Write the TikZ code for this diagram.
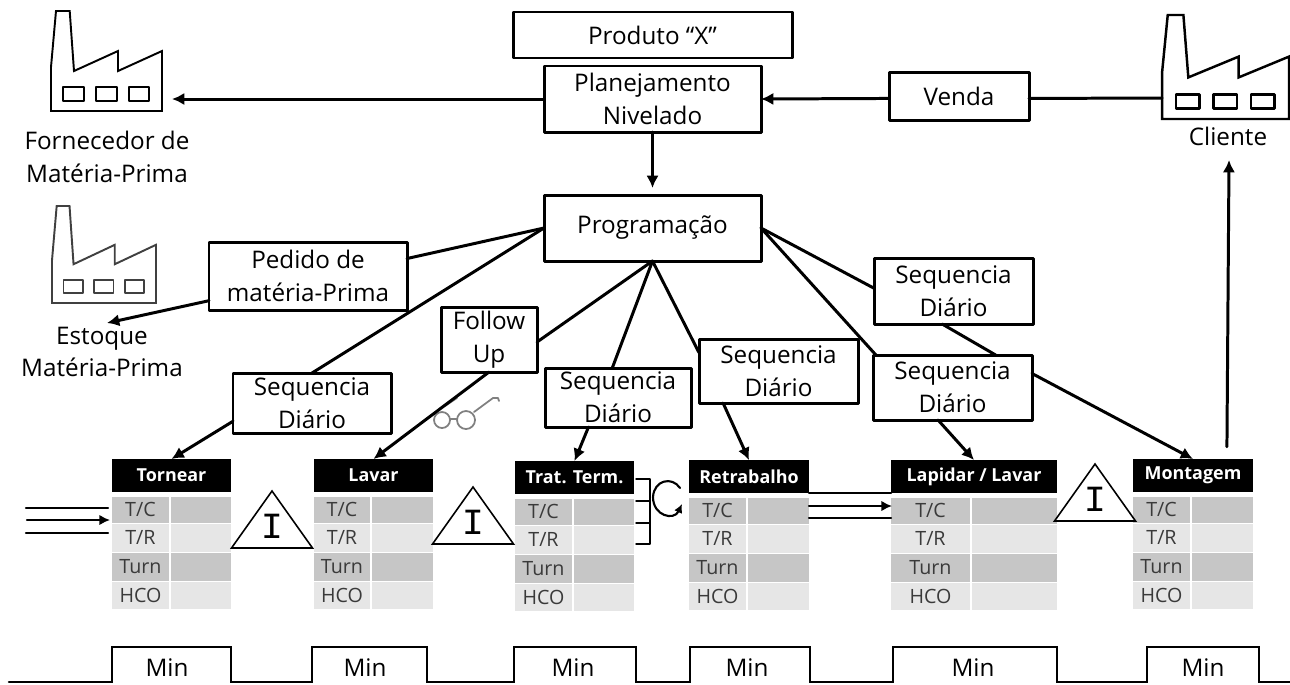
\documentclass[tikz,border=0pt]{standalone}
\usepackage{fontspec}
\setmainfont{Open Sans}
\newfontfamily\invfont{Liberation Mono}
\usetikzlibrary{arrows.meta}
\definecolor{rowdark}{HTML}{C6C6C6}
\definecolor{rowlight}{HTML}{E6E6E6}
\definecolor{celltext}{HTML}{3A3A3A}
\tikzset{
    wh/.style 2 args={minimum width=(#1)*0.02cm, minimum height=(#2)*0.02cm},
    boxnode/.style={draw, line width=1.7pt, fill=white, inner sep=0pt, outer sep=0pt, align=center,
        font=\fontsize{13.8}{18.7}\selectfont},
    textnode/.style={inner sep=0pt, align=center, font=\fontsize{13.8}{18.7}\selectfont},
    prochead/.style={fill=black, text=white, inner sep=0pt, outer sep=0pt, anchor=north west,
        font=\fontsize{10.2}{12}\selectfont\bfseries},
    cellnode/.style={inner sep=0pt, outer sep=0pt, anchor=north west, text=celltext,
        font=\fontsize{11.2}{12}\selectfont},
    connector/.style={line width=1.7pt},
    arrowline/.style={connector, -{Latex[length=7pt,width=7pt]}},
    pushline/.style={line width=1.2pt},
    invline/.style={draw, line width=0.9pt, fill=white, line join=miter},
    factory/.pic={
        \draw[line join=miter] (0,100) -- (0,56) -- (5,0) -- (18.7,0) -- (23,60) -- (67,40) -- (67,60)
            -- (111,40) -- (111,100) -- cycle;
        \foreach \wx in {12.3,45,77.7}
            \draw (\wx,76.3) rectangle ++(20.6,13.4);
    }
}
\begin{document}
\begin{tikzpicture}[x=0.02cm, y=-0.02cm, line cap=round, line join=round]
    \useasboundingbox (0,0) rectangle (1290,684);
    % factories
    \pic[line width=1.1pt] at (51,11) {factory};
    \pic[line width=1.1pt, xscale=0.937, yscale=0.97, draw=black!75] at (52,206) {factory};
    \pic[line width=1.4pt, xscale=1.144, yscale=1.04] at (1162,15) {factory};
    \node[textnode] (fornecedor) at (107,157) {Fornecedor de\\Matéria-Prima};
    \node[textnode] (estoque) at (102,352) {Estoque\\Matéria-Prima};
    \node[textnode] (cliente) at (1228,136) {Cliente};
    \coordinate (fornecedortip) at (172,99);
    \coordinate (estoquetip) at (107,323);
    \coordinate (clientedoor) at (1162,98);
    \coordinate (clientetip) at (1229,160);
    % glasses
    \begin{scope}[draw=black!50, line width=1pt]
        \draw (442,420) circle (8);
        \draw (466,420) circle (9);
        \draw (450,419) -- (457,419);
        \draw (474,412) -- (493,398) -- (498,398) -- (499,401);
        \draw (445,406) -- (457,398);
    \end{scope}
    % boxes
    \node[boxnode, wh={279}{46}] (produto) at (652.5,35) {Produto “X”};
    \node[boxnode, wh={217}{66}] (planejamento) at (652.5,99) {Planejamento\\Nivelado};
    \node[boxnode, wh={217}{66}] (programacao) at (652.5,228) {Programação};
    \node[boxnode, wh={140}{48}] (venda) at (959,96) {Venda};
    \node[boxnode, wh={198}{68}] (pedido) at (308,276) {Pedido de\\matéria-Prima};
    \node[boxnode, wh={158}{60}] (seqa) at (312,403) {Sequencia\\Diário};
    \node[boxnode, wh={96}{65}] (follow) at (489,339.5) {Follow\\Up};
    \node[boxnode, wh={146}{59}] (seqb) at (618,397.5) {Sequencia\\Diário};
    \node[boxnode, wh={159}{64}] (seqc) at (778.5,371) {Sequencia\\Diário};
    \node[boxnode, wh={159}{66}] (seqd) at (953.5,291) {Sequencia\\Diário};
    \node[boxnode, wh={159}{65}] (seqe) at (952.5,387.5) {Sequencia\\Diário};
    % process tables
    \foreach \name/\x/\y/\w/\c/\label in {tornear/112/459/119/170/Tornear, lavar/314/459/119/371/Lavar,
        trat/515/461/119/573/{Trat. Term.}, retrabalho/689/460/120/747/Retrabalho,
        lapidar/891/460/166/971/{Lapidar / Lavar}, montagem/1133/459/120/1191/Montagem} {
        \node[prochead, wh={\w}{33}] (\name) at (\x,\y) {\label};
        \foreach \r/\dy/\h/\col/\txt in {tc/38/25.5/rowdark/{T/C}, tr/64.5/28.5/rowlight/{T/R},
            turn/94/28/rowdark/Turn, hco/123/27/rowlight/HCO} {
            \node[cellnode, fill=\col, wh={\c-\x-1}{\h}] (\name-\r) at (\x,\y+\dy) {\txt};
            \node[cellnode, fill=\col, wh={\x+\w-\c-1}{\h}] (\name-\r-v) at (\c+1,\y+\dy) {};
        }
    }
    % inventory triangles
    \foreach \name/\x/\y in {inva/272/491, invb/473/487, invc/1095/464} {
        \draw[invline] (\x,\y) -- ++(-40.5,57) -- ++(81,0) -- cycle;
        \node[inner sep=0pt, font=\invfont\fontsize{21}{21}\selectfont] (\name) at (\x,\y+35.5) {I};
    }
    % connectors
    \draw[arrowline] (planejamento.west) -- (fornecedortip);
    \draw[arrowline, shorten >=4pt] (planejamento.south) -- (programacao.north);
    \draw[connector] (clientedoor) -- (venda.358);
    \draw[arrowline] (venda.182) -- (planejamento.east);
    \draw[connector] (programacao.west) -- (pedido.10);
    \draw[arrowline] (pedido.194) -- (estoquetip);
    \draw[connector] (programacao.west) -- (seqa.north);
    \draw[arrowline] (seqa.193) -- (tornear.north);
    \draw[connector] (programacao.south) -- (follow.357);
    \draw[arrowline] (follow.south) -- (lavar.north);
    \draw[connector] (programacao.south) -- (seqb.101);
    \draw[arrowline] (seqb.225) -- (trat.north);
    \draw[connector] (programacao.south) -- (seqc.167);
    \draw[arrowline] (seqc.210) -- (retrabalho.north);
    \draw[connector] (programacao.east) -- (seqd.178);
    \draw[connector] (seqd.251) -- (seqe.37);
    \draw[arrowline] (seqe.10) -- (montagem.north);
    \draw[connector] (programacao.east) -- (seqe.157);
    \draw[arrowline] (seqe.246) -- (lapidar.north);
    \draw[arrowline, shorten <=7pt] (montagem.26) -- (clientetip);
    % push arrows
    \coordinate (entradaa) at (26,508);
    \coordinate (entradab) at (108,508);
    \coordinate (entradac) at (27,520);
    \coordinate (entradad) at (26,533);
    \coordinate (entradae) at (108,533);
    \coordinate (entradaf) at (110,520);
    \draw[pushline] (entradaa) -- (entradab);
    \draw[pushline] (entradad) -- (entradae);
    \draw[pushline, -{Latex[length=6pt,width=6pt]}] (entradac) -- (entradaf);
    \coordinate (saidaa) at (809,493);
    \coordinate (saidab) at (891,493);
    \coordinate (saidac) at (809,506);
    \coordinate (saidad) at (892,506);
    \coordinate (saidae) at (809,518);
    \coordinate (saidaf) at (891,518);
    \draw[pushline] (saidaa) -- (saidab);
    \draw[pushline, -{Latex[length=6pt,width=6pt]}] (saidac) -- (saidad);
    \draw[pushline] (saidae) -- (saidaf);
    % batch bracket and loop
    \draw[line width=0.8pt] (636,479) -- (650,479) -- (650,544) -- (636,544);
    \draw[line width=0.8pt] (636,501) -- (650,501);
    \draw[line width=0.8pt] (636,523) -- (650,523);
    \draw[pushline, -{Latex[length=5pt,width=5pt]}] (680,488) .. controls (672,476) and (654,480) .. (653,497)
        .. controls (653,516) and (674,521) .. (682,504);
    % lead time line
    \draw[line width=1.5pt, line join=miter] (9,682) -- (112,682) -- (112,647) -- (231,647) -- (231,682) -- (312,682)
        -- (312,647) -- (427,647) -- (427,682) -- (514,682) -- (514,647) -- (636,647) -- (636,682) -- (690,682)
        -- (690,647) -- (810,647) -- (810,682) -- (893,682) -- (893,647) -- (1057,647) -- (1057,682) -- (1147,682)
        -- (1147,647) -- (1259,647) -- (1259,682) -- (1290,682);
    \foreach \name/\x in {mina/167, minb/365, minc/573, mind/747, mine/973, minf/1203}
        \node[textnode] (\name) at (\x,668) {Min};
\end{tikzpicture}
\end{document}
